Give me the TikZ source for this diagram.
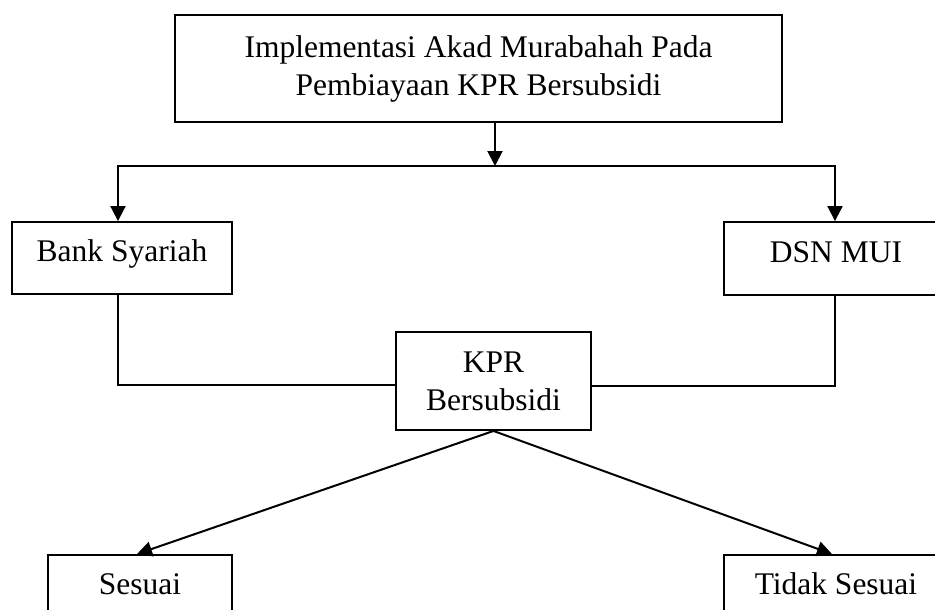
\documentclass[tikz,border=0pt]{standalone}
\usepackage{fontspec}
\setmainfont{Liberation Serif}
\usetikzlibrary{arrows.meta}
\begin{document}
\begin{tikzpicture}[x=1pt,y=-1pt,
  box/.style={draw, line width=1.9pt, inner sep=0pt, font=\fontsize{31.5}{38}\selectfont, align=center},
  onebox/.style={box, text height=21pt, text depth=14pt},
  arr/.style={line width=2pt, -{Triangle[width=15pt,length=15pt]}},
  con/.style={line width=1.6pt}]
\useasboundingbox (0,0) rectangle (935,610);
\node[box, minimum width=607pt, minimum height=107pt] (top) at (478.5,68.5) {Implementasi Akad Murabahah Pada\\Pembiayaan KPR Bersubsidi};
\node[onebox, minimum width=220pt, minimum height=72pt] (bank) at (122,258) {Bank Syariah};
\node[onebox, minimum width=224pt, minimum height=73pt] (dsn) at (836,258.5) {DSN MUI};
\node[box, minimum width=195pt, minimum height=98pt] (kpr) at (493.5,381) {KPR\\Bersubsidi};
\node[onebox, minimum width=184pt, minimum height=72pt] (ses) at (140,591) {Sesuai};
\node[onebox, minimum width=224pt, minimum height=72pt] (tidak) at (836,591) {Tidak Sesuai};
\coordinate (split) at (495,166);
\coordinate (hl) at (118,166);
\coordinate (hr) at (835,166);
\coordinate (bl) at (118,385);
\coordinate (dl) at (835,386);
\draw[arr] (top.south -| split) -- (split);
\draw[arr] (split) -- (hl) -- (hl |- bank.north);
\draw[arr] (split) -- (hr) -- (hr |- dsn.north);
\draw[con] (bank.south -| bl) -- (bl) -- (bl -| kpr.west);
\draw[con] (dsn.south -| dl) -- (dl) -- (dl -| kpr.east);
\draw[arr] (kpr.south) -- (ses.north -| 137,0);
\draw[arr] (kpr.south) -- (tidak.north -| 832,0);
\end{tikzpicture}
\end{document}
